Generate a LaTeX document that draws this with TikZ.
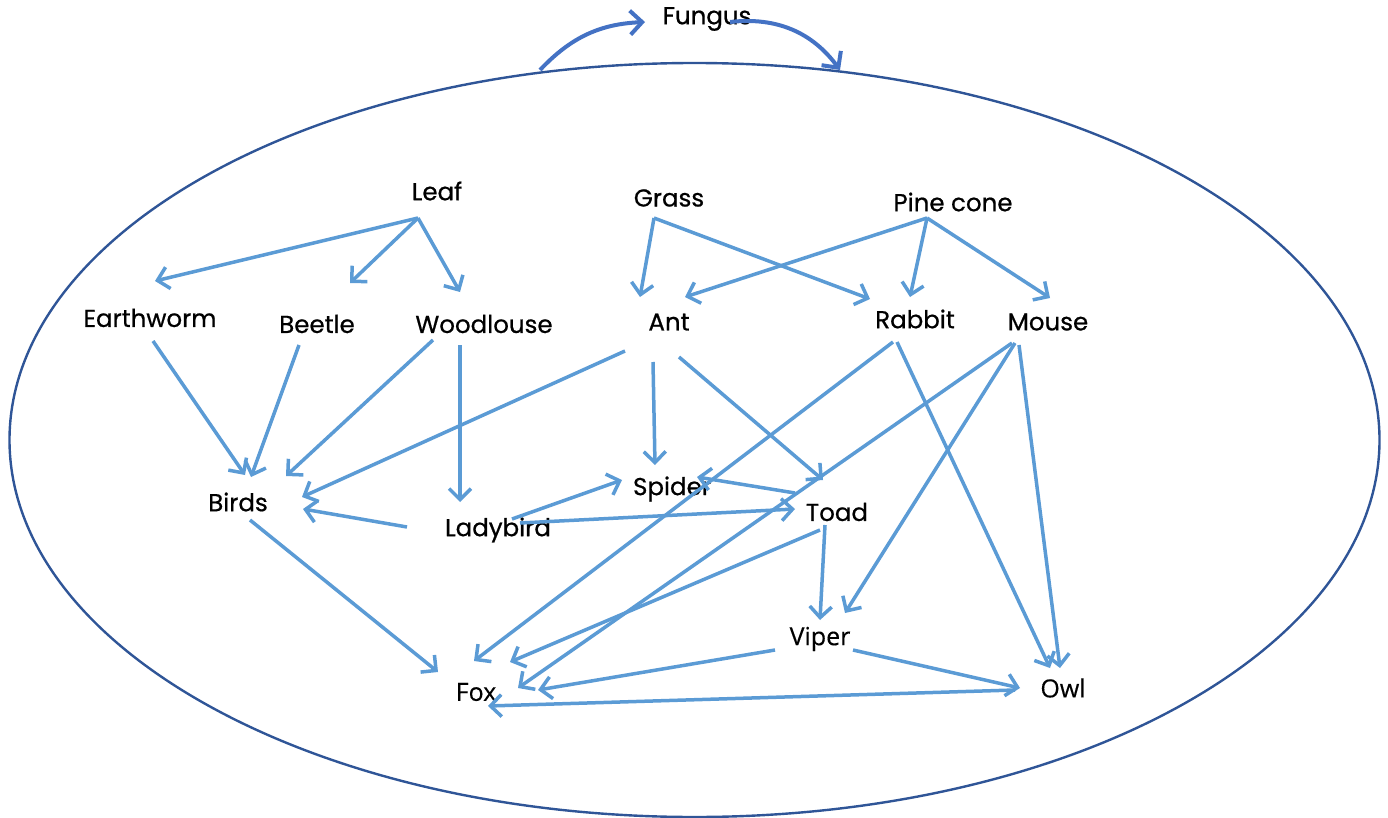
\documentclass[tikz,border=0pt]{standalone}
\usepackage{fontspec}
\setmainfont{Poppins}[FakeBold=0.7]
\newfontfamily\segoe{Open Sans}[FakeBold=0.3]
\usetikzlibrary{arrows.meta,calc}
\definecolor{lblue}{HTML}{5B9BD5}
\definecolor{mblue}{HTML}{4472C4}
\definecolor{dblue}{HTML}{2F5597}
\begin{document}
\begin{tikzpicture}[x=1pt,y=-1pt,
  lbl/.style={font=\fontsize{24.5}{28}\selectfont, inner sep=0pt},
  lbl2/.style={font=\segoe\fontsize{25}{29}\selectfont, inner sep=0pt},
  link/.style={draw=lblue, line width=3.5pt, -{Straight Barb[length=11pt,width=22pt]}},
  fung/.style={draw=mblue, line width=4pt, -{Straight Barb[length=12pt,width=24pt]}}]
\useasboundingbox (0,0) rectangle (1388,818);
\draw[dblue, line width=2.4pt] (694.5,440) ellipse [x radius=685, y radius=377];

\node[lbl] (fungus) at (707,19) {Fungus};
\node[lbl] (leaf) at (437,191) {Leaf};
\node[lbl] (grass) at (669,198) {Grass};
\node[lbl] (pine) at (953,202) {Pine cone};
\node[lbl] (earthworm) at (150,318) {Earthworm};
\node[lbl] (beetle) at (317,324) {Beetle};
\node[lbl] (woodlouse) at (484,324) {Woodlouse};
\node[lbl] (ant) at (669,322) {Ant};
\node[lbl] (rabbit) at (915,319) {Rabbit};
\node[lbl] (mouse) at (1048,322) {Mouse};
\node[lbl] (birds) at (238,502) {Birds};
\node[lbl] (spider) at (672,489) {Spider};
\node[lbl] (ladybird) at (498,530) {Ladybird};
\node[lbl] (toad) at (837,512) {Toad};
\node[lbl2] (viper) at (820,639) {Viper};
\node[lbl2] (fox) at (476,692) {Fox};
\node[lbl2] (owl) at (1063,688) {Owl};

\coordinate (eL) at (540,70);
\coordinate (eR) at (840,70);
\draw[fung] (eL) to[bend left=22] ($(fungus)+(-62,3)$);
\draw[fung] ($(fungus)+(23,3)$) to[bend left=30] (eR);

% Leaf
\draw[link] ($(leaf)+(-19,27)$) -- ($(earthworm)+(5,-37)$);
\draw[link] ($(leaf)+(-19,27)$) -- ($(beetle)+(33,-41)$);
\draw[link] ($(leaf)+(-19,27)$) -- ($(woodlouse)+(-24,-32)$);
% Grass
\draw[link] ($(grass)+(-15,20)$) -- ($(ant)+(-29,-25)$);
\draw[link] ($(grass)+(-15,20)$) -- ($(rabbit)+(-45,-20)$);
% Pine cone
\draw[link] ($(pine)+(-26,16)$) -- ($(ant)+(16,-25)$);
\draw[link] ($(pine)+(-26,16)$) -- ($(rabbit)+(-5,-22)$);
\draw[link] ($(pine)+(-26,16)$) -- ($(mouse)+(2,-24)$);
% to Birds
\draw[link] ($(earthworm)+(3,23)$) -- ($(birds)+(7,-27)$);
\draw[link] ($(beetle)+(-18,21)$) -- ($(birds)+(13,-25)$);
\draw[link] ($(woodlouse)+(-51,16)$) -- ($(birds)+(48,-26)$);
\draw[link] ($(ant)+(-44,29)$) -- ($(birds)+(64,-5)$);
\draw[link] ($(ladybird)+(-91,-3)$) -- ($(birds)+(65,7)$);
% Woodlouse -> Ladybird
\draw[link] ($(woodlouse)+(-24,21)$) -- ($(ladybird)+(-38,-28)$);
% Ant
\draw[link] ($(ant)+(-16,40)$) -- ($(spider)+(-17,-24)$);
\draw[link] ($(ant)+(10,35)$) -- ($(toad)+(-14,-32)$);
% Ladybird
\draw[link] ($(ladybird)+(14,-11)$) -- ($(spider)+(-50,-9)$);
\draw[link] ($(ladybird)+(22,-7)$) -- ($(toad)+(-42,-3)$);
% Toad
\draw[link] ($(toad)+(-42,-19)$) -- ($(spider)+(25,-12)$);
\draw[link] ($(toad)+(-17,18)$) -- ($(fox)+(34,-30)$);
\draw[link] ($(toad)+(-12,13)$) -- ($(viper)+(0,-19)$);
% Rabbit
\draw[link] ($(rabbit)+(-22,23)$) -- ($(fox)+(-2,-31)$);
\draw[link] ($(rabbit)+(-18,23)$) -- ($(owl)+(-13,-20)$);
% Mouse
\draw[link] ($(mouse)+(-36,21)$) -- ($(fox)+(42,-4)$);
\draw[link] ($(mouse)+(-33,21)$) -- ($(viper)+(25,-26)$);
\draw[link] ($(mouse)+(-29,23)$) -- ($(owl)+(-3,-20)$);
% Viper
\draw[link] ($(viper)+(-45,11)$) -- ($(fox)+(62,-2)$);
\draw[link] ($(viper)+(33,11)$) -- ($(owl)+(-43,0)$);
% Owl, Birds -> Fox
\draw[link] ($(owl)+(-48,2)$) -- ($(fox)+(12,14)$);
\draw[link] ($(birds)+(12,18)$) -- ($(fox)+(-38,-20)$);
\end{tikzpicture}
\end{document}
